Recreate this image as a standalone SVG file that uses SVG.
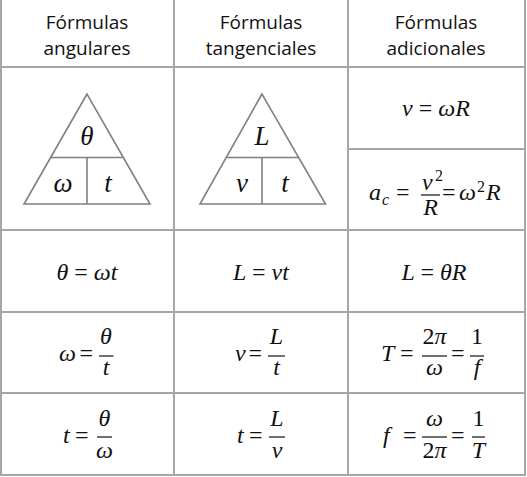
<svg xmlns="http://www.w3.org/2000/svg" width="527" height="477" viewBox="0 0 527 477">
<style>
.grid{stroke:#a6a6a6;stroke-width:2;fill:none}
.tri{stroke:#808080;stroke-width:1.6;fill:none}
.hd{font-family:"Open Sans","Noto Sans",sans-serif;font-size:19px;fill:#111;text-anchor:middle}
.m{font-family:"Liberation Serif","DejaVu Serif",serif;font-style:italic;font-size:24px;fill:#111}
.mt{font-family:"Liberation Serif","DejaVu Serif",serif;font-style:italic;font-size:27px;fill:#111;text-anchor:middle}
.c{text-anchor:middle}
.u{font-style:normal}
.s{font-size:16px}
.bar{stroke:#111;stroke-width:1.2}
</style>
<rect width="527" height="477" fill="#fff"/>
<g id="connectors">
<rect class="grid" x="1" y="-1" width="524" height="476"/>
<line class="grid" x1="174" y1="0" x2="174" y2="476"/>
<line class="grid" x1="348" y1="0" x2="348" y2="476"/>
<line class="grid" x1="0" y1="67" x2="526" y2="67"/>
<line class="grid" x1="348" y1="149" x2="526" y2="149"/>
<line class="grid" x1="0" y1="230" x2="526" y2="230"/>
<line class="grid" x1="0" y1="312" x2="526" y2="312"/>
<line class="grid" x1="0" y1="393" x2="526" y2="393"/>
</g>
<g id="h1"><text class="hd" x="87" y="29">Fórmulas</text><text class="hd" x="87" y="55">angulares</text></g>
<g id="h2"><text class="hd" x="261" y="29">Fórmulas</text><text class="hd" x="261" y="55">tangenciales</text></g>
<g id="h3"><text class="hd" x="436" y="29">Fórmulas</text><text class="hd" x="436" y="55">adicionales</text></g>
<g id="tri1">
<polygon class="tri" points="87,94 24,204 150,204"/>
<line class="tri" x1="51" y1="157.5" x2="123" y2="157.5"/>
<line class="tri" x1="87" y1="157.5" x2="87" y2="204"/>
<text class="mt" x="87" y="145">θ</text>
<text class="mt" x="63" y="192">ω</text>
<text class="mt" x="108" y="192">t</text>
</g>
<g id="tri2">
<polygon class="tri" points="262,94 200,204 325.5,204"/>
<line class="tri" x1="227" y1="157.5" x2="298" y2="157.5"/>
<line class="tri" x1="262" y1="157.5" x2="262" y2="204"/>
<text class="mt" x="262" y="145">L</text>
<text class="mt" x="242" y="192">v</text>
<text class="mt" x="285" y="192">t</text>
</g>
<g id="f-vwr"><text class="m c" x="436" y="116">v <tspan class="u">=</tspan> ωR</text></g>
<g id="f-ac">
<text class="m" x="369" y="200">a</text><text class="m s" x="382" y="205">c</text>
<text class="m u" x="396" y="200">=</text>
<line class="bar" x1="421" y1="195" x2="440" y2="195"/>
<text class="m" x="422" y="190">v</text><text class="m u s" x="435" y="181">2</text>
<text class="m c" x="430.5" y="215">R</text>
<text class="m u" x="442" y="200">=</text>
<text class="m" x="459" y="200">ω</text><text class="m u s" x="477" y="192">2</text><text class="m" x="486" y="200">R</text>
</g>
<g id="f-r3c1"><text class="m c" x="87" y="280">θ <tspan class="u">=</tspan> ωt</text></g>
<g id="f-r3c2"><text class="m c" x="261" y="280">L <tspan class="u">=</tspan> vt</text></g>
<g id="f-r3c3"><text class="m c" x="434" y="280">L <tspan class="u">=</tspan> θR</text></g>
<g id="f-r4c1">
<text class="m" x="59" y="361">ω</text><text class="m u" x="79.5" y="361">=</text>
<line class="bar" x1="99" y1="356" x2="113.5" y2="356"/>
<text class="m c" x="106" y="344">θ</text><text class="m c" x="106" y="375">t</text>
</g>
<g id="f-r4c2">
<text class="m" x="235" y="361">v</text><text class="m u" x="248.5" y="361">=</text>
<line class="bar" x1="268" y1="356" x2="285" y2="356"/>
<text class="m c" x="276.5" y="344">L</text><text class="m c" x="276.5" y="375">t</text>
</g>
<g id="f-r4c3">
<text class="m" x="381" y="361">T</text><text class="m u" x="400" y="361">=</text>
<line class="bar" x1="422" y1="356" x2="447" y2="356"/>
<text class="m c" x="434.5" y="344"><tspan class="u">2</tspan>π</text><text class="m c" x="434.5" y="375">ω</text>
<text class="m u" x="451" y="361">=</text>
<line class="bar" x1="470" y1="356" x2="484" y2="356"/>
<text class="m c u" x="477" y="344">1</text><text class="m c" x="477" y="375">f</text>
</g>
<g id="f-r5c1">
<text class="m" x="63" y="443">t</text><text class="m u" x="75" y="443">=</text>
<line class="bar" x1="97" y1="437" x2="112" y2="437"/>
<text class="m c" x="104.5" y="426">θ</text><text class="m c" x="104.5" y="458">ω</text>
</g>
<g id="f-r5c2">
<text class="m" x="237" y="443">t</text><text class="m u" x="249" y="443">=</text>
<line class="bar" x1="269" y1="437" x2="285" y2="437"/>
<text class="m c" x="277" y="426">L</text><text class="m c" x="277" y="458">v</text>
</g>
<g id="f-r5c3">
<text class="m" x="383" y="443">f</text><text class="m u" x="403" y="443">=</text>
<line class="bar" x1="422" y1="437" x2="447" y2="437"/>
<text class="m c" x="434.5" y="426">ω</text><text class="m c" x="434.5" y="458"><tspan class="u">2</tspan>π</text>
<text class="m u" x="451" y="443">=</text>
<line class="bar" x1="472" y1="437" x2="485" y2="437"/>
<text class="m c u" x="478.5" y="426">1</text><text class="m c" x="478.5" y="458">T</text>
</g>
</svg>
